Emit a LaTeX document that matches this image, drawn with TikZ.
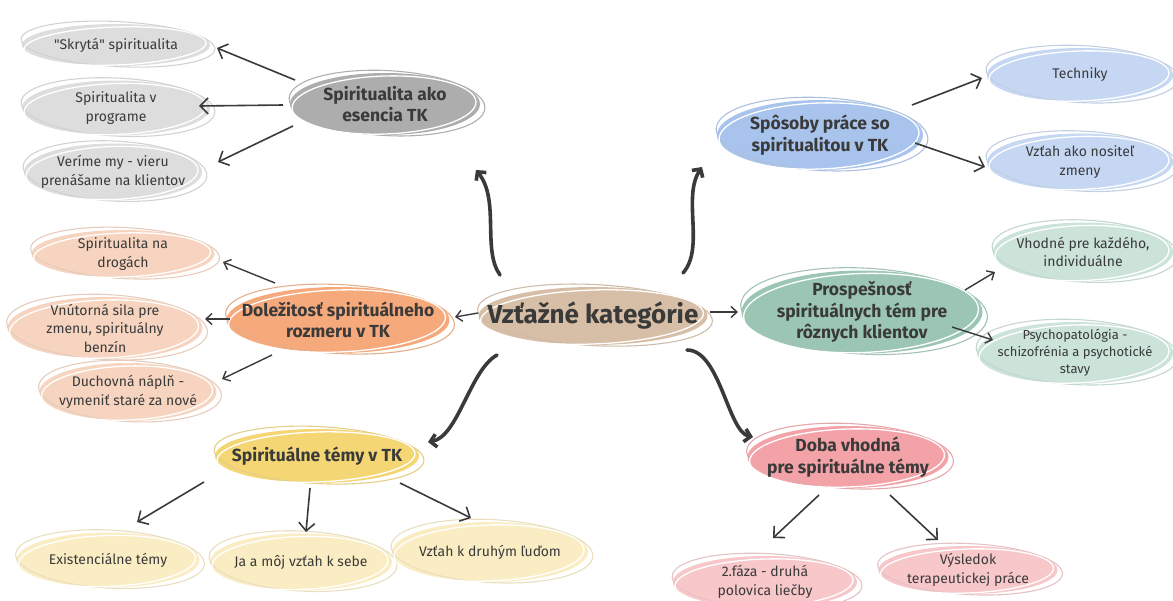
\documentclass[tikz,border=0pt]{standalone}
\usepackage{fontspec}
\setmainfont{Fira Sans}
\newfontfamily\qfont{Fira Sans}[Ligatures=TeXOff]
\usetikzlibrary{shapes.geometric,arrows.meta,calc}
\definecolor{ink}{HTML}{3A3A3A}
\definecolor{cC}{HTML}{D7BEA6}
\definecolor{gM}{HTML}{ADADAD}
\definecolor{gL}{HTML}{DDDDDD}
\definecolor{bM}{HTML}{A8C3EC}
\definecolor{bL}{HTML}{C6D7F3}
\definecolor{oM}{HTML}{F6A97B}
\definecolor{oL}{HTML}{F7D4BF}
\definecolor{pM}{HTML}{9CC6B4}
\definecolor{pL}{HTML}{CBE3D9}
\definecolor{yM}{HTML}{F4D774}
\definecolor{yL}{HTML}{FBEDC3}
\definecolor{rM}{HTML}{F3A2A7}
\definecolor{rL}{HTML}{F7C7CA}
\tikzset{
  bubtext/.style={ellipse, inner sep=0pt, align=center, text=ink},
  leaf/.style={bubtext, font=\fontsize{14}{18.5}\selectfont},
  smallleaf/.style={bubtext, font=\fontsize{13}{17}\selectfont},
  head/.style={bubtext, font=\bfseries\fontsize{17.5}{21.5}\selectfont},
  centre/.style={bubtext, font=\bfseries\fontsize{26}{30}\selectfont},
  larrow/.style={draw=ink, line width=1.6pt, -{Straight Barb[length=8pt,width=16pt]}},
  sarrow/.style={draw=ink, line width=1.4pt, -{Straight Barb[length=6pt,width=11pt]}},
  carrow/.style={draw=ink, line width=3.6pt, line cap=round, -{Straight Barb[length=6pt,width=13pt]}},
}
% name, x, y, w, h, colour, style, text
\newcommand\bubble[8]{%
  \fill[#6] (#2,#3) ellipse [x radius={0.5*#4pt}, y radius={0.5*#5pt}];
  \draw[#6!90!black!80!white, line width=1.1pt, rotate around={-3:(#2,#3)}]
     (#2+2,#3-1) ellipse [x radius={0.5*#4pt+3pt}, y radius={0.5*#5pt+1.5pt}];
  \draw[white, line width=1.3pt, rotate around={2:(#2,#3)}]
     (#2-1,#3+1) ellipse [x radius={0.5*#4pt-3pt}, y radius={0.5*#5pt-2pt}];
  \node[#7] (#1) at (#2,#3) {#8};
}
\begin{document}
\begin{tikzpicture}[x=1pt,y=-1pt]
\path[use as bounding box] (0,0) rectangle (1173,600);
\clip (0,0) rectangle (1173,600);

\bubble{C}{593}{316}{229}{58}{cC}{centre}{Vzťažné kategórie}

\bubble{G}{385}{104}{190}{62}{gM}{head}{Spiritualita ako\\esencia TK}
\bubble{S1}{116}{45}{188}{42}{gL}{leaf}{{\qfont"}Skrytá{\qfont"} spiritualita}
\bubble{S2}{116}{108}{188}{55}{gL}{leaf}{Spiritualita v\\programe}
\bubble{S3}{113}{172}{178}{57}{gL}{leaf}{Veríme my - vieru\\prenášame na klientov}

\bubble{B}{820}{135}{206}{70}{bM}{head}{Spôsoby práce so\\spiritualitou v TK}
\bubble{T}{1080}{75}{186}{54}{bL}{leaf}{Techniky}
\bubble{V}{1080}{162}{186}{57}{bL}{leaf}{Vzťah ako nositeľ\\zmeny}

\bubble{O}{338}{320}{223}{66}{oM}{head}{Doležitosť spirituálneho\\rozmeru v TK}
\bubble{D1}{123}{254}{183}{48}{oL}{leaf}{Spiritualita na\\drogách}
\bubble{D2}{105}{328}{195}{62}{oL}{leaf}{Vnútorná sila pre\\zmenu, spirituálny\\benzín}
\bubble{D3}{128}{392}{177}{58}{oL}{leaf}{Duchovná náplň -\\vymeniť staré za nové}

\bubble{P}{862}{312}{241}{83}{pM}{head}{Prospešnosť\\spirituálnych tém pre\\rôznych klientov}
\bubble{H1}{1083}{252}{180}{59}{pL}{leaf}{Vhodné pre každého,\\individuálne}
\bubble{H2}{1075}{353}{196}{62}{pL}{smallleaf}{Psychopatológia -\\schizofrénia a psychotické\\stavy}

\bubble{Y}{317}{456}{204}{54}{yM}{head}{Spirituálne témy v TK}
\bubble{E}{108}{560}{183}{55}{yL}{leaf}{Existenciálne témy}
\bubble{J}{301}{562}{182}{57}{yL}{leaf}{Ja a môj vzťah k sebe}
\bubble{K}{490}{552}{196}{60}{yL}{leaf}{Vzťah k druhým ľuďom}

\bubble{D}{848}{457}{201}{62}{rM}{head}{Doba vhodná\\pre spirituálne témy}
\bubble{F}{765}{582}{184}{52}{rL}{leaf}{2.fáza - druhá\\polovica liečby}
\bubble{R}{968}{570}{179}{48}{rL}{leaf}{Výsledok\\terapeutickej práce}

% central connectors
\draw[carrow] ($(C)+(-93,-41)$) .. controls +(-18,-25) and +(24,30) .. ($(G)+(91,66)$);
\draw[carrow] ($(C)+(90,-43)$) .. controls +(22,-25) and +(-20,30) .. ($(B)+(-118,32)$);
\draw[carrow] ($(C)+(-96,39)$) .. controls +(-27,15) and +(30,-5) .. ($(Y)+(111,-14)$);
\draw[carrow] ($(C)+(94,34)$) .. controls +(33,0) and +(-25,-5) .. ($(D)+(-95,-20)$);
\draw[sarrow] ($(C)+(-115,-3)$) -- ($(O)+(117,-3)$);
\draw[sarrow] ($(C)+(117,-4)$) -- ($(P)+(-124,0)$);

% gray
\draw[larrow] ($(G)+(-90,-24)$) -- ($(S1)+(101,3)$);
\draw[larrow] ($(G)+(-102,1)$) -- ($(S2)+(83,-2)$);
\draw[larrow] ($(G)+(-92,22)$) -- ($(S3)+(105,-10)$);
% blue
\draw[larrow] ($(B)+(92,-30)$) -- ($(T)+(-98,3)$);
\draw[larrow] ($(B)+(95,8)$) -- ($(V)+(-95,5)$);
% orange
\draw[sarrow] ($(O)+(-63,-37)$) -- ($(D1)+(100,8)$);
\draw[sarrow] ($(O)+(-108,-1)$) -- ($(D2)+(100,-9)$);
\draw[sarrow] ($(O)+(-66,35)$) -- ($(D3)+(94,-13)$);
% green
\draw[sarrow] ($(P)+(103,-22)$) -- ($(H1)+(-88,20)$);
\draw[sarrow] ($(P)+(90,15)$) -- ($(H2)+(-82,-13)$);
% yellow
\draw[larrow] ($(Y)+(-113,26)$) -- ($(E)+(29,-38)$);
\draw[larrow] ($(Y)+(-7,32)$) -- ($(J)+(5,-30)$);
\draw[larrow] ($(Y)+(83,27)$) -- ($(K)+(-19,-34)$);
% pink
\draw[larrow] ($(D)+(-29,38)$) -- ($(F)+(8,-44)$);
\draw[larrow] ($(D)+(42,38)$) -- ($(R)+(-30,-30)$);
\end{tikzpicture}
\end{document}
